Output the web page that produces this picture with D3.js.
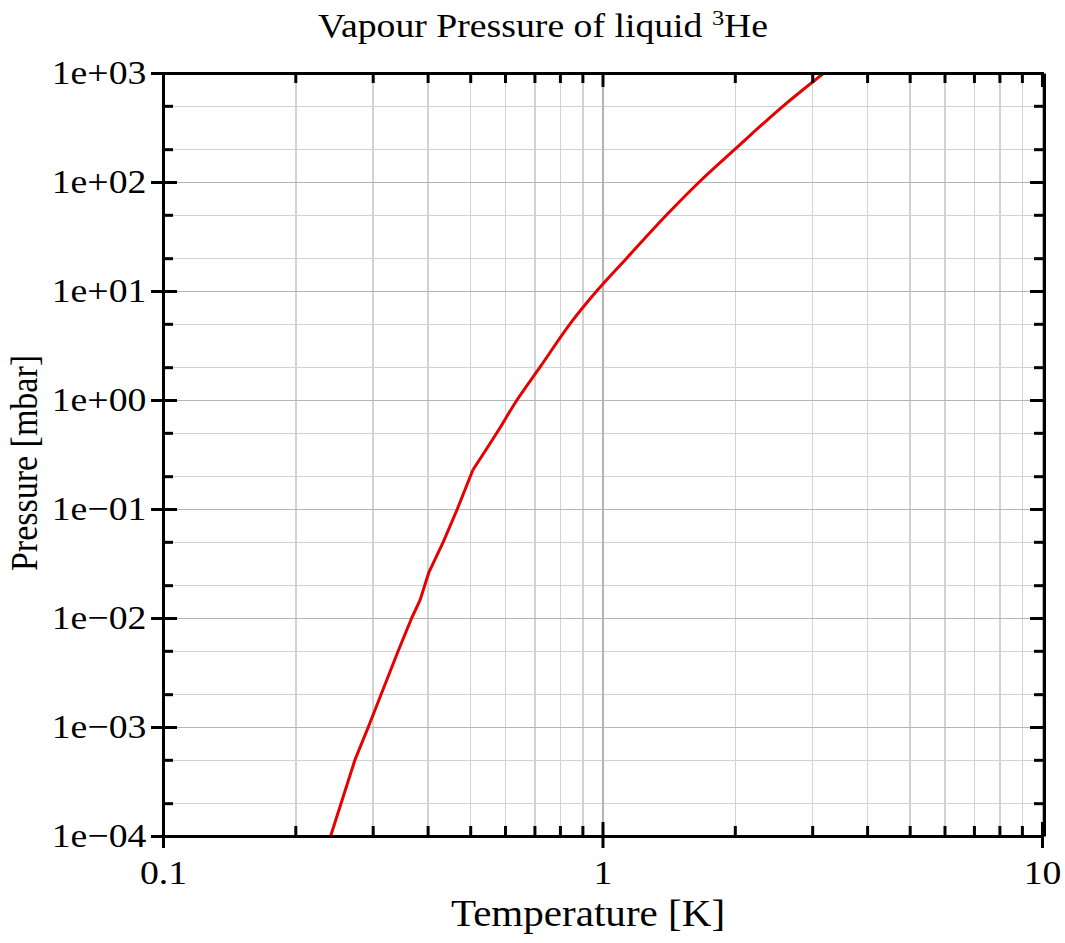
<!DOCTYPE html>
<html lang="en">
<head>
    <meta charset="UTF-8">
    <title>Vapour Pressure of liquid 3He</title>
    <script src="https://d3js.org/d3.v7.min.js"></script>
    <style>
        body { margin: 0; background: #fff; }
        svg { display: block; }
        text { font-family: "Liberation Serif", "Tinos", "Times New Roman", "DejaVu Serif", serif; }
        .grid line { shape-rendering: crispEdges; }
        .grid .domain { display: none; }
    </style>
</head>
<body>
<div id="container"></div>
<script>
    // data (T in K, P in mbar)
    var temperature = [0.2407, 0.2734, 0.2932, 0.343, 0.368, 0.3845, 0.4029, 0.4343, 0.4674, 0.507,
                       0.575, 0.639, 0.7207, 0.8436, 0.970, 1.135, 1.40, 1.66, 2.002, 2.58, 3.19];
    var pressure    = [1e-4, 5e-4, 1e-3, 5e-3, 0.01, 0.0146, 0.0264, 0.05, 0.1, 0.228,
                       0.5, 1, 2, 5, 10, 20, 50, 100, 200, 500, 1000];
    var kinkAt = 0.507;   // below this the curve is drawn point to point

    var xTicks = [0.1, 1, 10];
    var xTickLabels = ["0.1", "1", "10"];
    var yTicks = [1e-4, 1e-3, 1e-2, 1e-1, 1e0, 1e1, 1e2, 1e3];
    var yTickLabels = ["1e\u221204", "1e\u221203", "1e\u221202", "1e\u221201", "1e+00", "1e+01", "1e+02", "1e+03"];

    var width = 1065, height = 943,
        margin = {left: 163, top: 73, right: 23, bottom: 107};
    var w = width - margin.left - margin.right;
    var h = height - margin.top - margin.bottom;
    var fontSize = "34px";
    var stretch = "scale(1.11,1)";   // the text in the picture is a bit wide

    var svg = d3.select("#container").append("svg").attr("width", width).attr("height", height);
    var g = svg.append("g").attr("transform", `translate(${margin.left},${margin.top})`);

    var x = d3.scaleLog().domain([0.1, 10]).range([0, w]);
    var y = d3.scaleLog().domain([1e-4, 1e3]).range([h, 0]);

    // minor ticks from the scale itself
    var xMinor = x.ticks().filter(d => xTicks.indexOf(d) < 0);
    var yMinor = y.ticks().filter(d => {
        var m = Math.round(d / Math.pow(10, Math.floor(Math.log10(d) + 1e-9)));
        return m == 2 || m == 5;
    });

    // grid
    function grid(axis, values, tr, color) {
        g.append("g").attr("class", "grid")
            .attr("transform", tr)
            .call(axis.tickValues(values).tickFormat(""))
            .selectAll("line").attr("stroke", color).attr("stroke-width", 1.5);
    }
    grid(d3.axisBottom(x).tickSize(-h), xMinor, `translate(0,${h})`, "#d2d2d2");
    grid(d3.axisLeft(y).tickSize(-w), yMinor, null, "#d2d2d2");
    grid(d3.axisBottom(x).tickSize(-h), xTicks, `translate(0,${h})`, "#b4b4b4");
    grid(d3.axisLeft(y).tickSize(-w), yTicks, null, "#b4b4b4");

    // curve
    g.append("clipPath").attr("id", "clip")
        .append("rect").attr("width", w).attr("height", h);
    var pts = d3.zip(temperature, pressure);
    var lower = pts.filter(d => d[0] <= kinkAt);
    var upper = pts.filter(d => d[0] >= kinkAt);
    var line = d3.line().x(d => x(d[0])).y(d => y(d[1]));
    var curves = g.append("g").attr("clip-path", "url(#clip)");
    curves.append("path").datum(lower)
        .attr("fill", "none").attr("stroke", "#e60000").attr("stroke-width", 3)
        .attr("stroke-linejoin", "round")
        .attr("d", line.curve(d3.curveLinear));
    curves.append("path").datum(upper)
        .attr("fill", "none").attr("stroke", "#e60000").attr("stroke-width", 3)
        .attr("d", line.curve(d3.curveMonotoneX));

    function styleAxis(sel) {
        sel.attr("font-family", null);
        sel.select(".domain").attr("stroke", "#000").attr("stroke-width", 3);
        sel.selectAll(".tick line").attr("stroke", "#000").attr("stroke-width", 3);
        sel.selectAll(".tick text").attr("fill", "#000").attr("transform", stretch).style("font-size", fontSize);
    }

    // inward ticks: minor and major
    function inward(axisFn, major, minor, tr) {
        var a1 = g.append("g").attr("transform", tr)
            .call(axisFn.tickValues(minor).tickSize(-10).tickSizeOuter(0).tickFormat(""));
        styleAxis(a1);
        var a2 = g.append("g").attr("transform", tr)
            .call(axisFn.tickValues(major).tickSize(-14).tickSizeOuter(0).tickFormat(""));
        styleAxis(a2);
        a2.select(".domain").remove();
    }
    inward(d3.axisBottom(x), xTicks, xMinor, `translate(0,${h})`);
    inward(d3.axisTop(x), xTicks, xMinor, "translate(0,0)");
    inward(d3.axisLeft(y), yTicks, yMinor, "translate(0,0)");
    inward(d3.axisRight(y), yTicks, yMinor, `translate(${w + 2},0)`);

    // outward major ticks with labels
    var xb = g.append("g").attr("transform", `translate(0,${h})`)
        .call(d3.axisBottom(x).tickValues(xTicks).tickSize(12).tickSizeOuter(0).tickPadding(12)
            .tickFormat((d, i) => xTickLabels[i]));
    styleAxis(xb);
    xb.select(".domain").remove();

    var yl = g.append("g")
        .call(d3.axisLeft(y).tickValues(yTicks).tickSize(12).tickSizeOuter(0).tickPadding(3)
            .tickFormat((d, i) => yTickLabels[i]));
    styleAxis(yl);
    yl.select(".domain").remove();

    // title
    var title = svg.append("text")
        .attr("transform", "translate(543,37) " + stretch)
        .attr("text-anchor", "middle")
        .style("font-size", fontSize).attr("fill", "#000");
    title.append("tspan").text("Vapour Pressure of liquid ");
    title.append("tspan").text("3").style("font-size", "22px").attr("dy", -12);
    title.append("tspan").text("He").attr("dy", 12);

    // axis labels
    svg.append("text")
        .attr("transform", "translate(588,926) " + stretch)
        .attr("text-anchor", "middle")
        .style("font-size", "37px").attr("fill", "#000")
        .text("Temperature [K]");
    svg.append("text")
        .attr("transform", "translate(37,463) " + stretch + " rotate(-90)")
        .attr("text-anchor", "middle")
        .style("font-size", fontSize).attr("fill", "#000")
        .text("Pressure [mbar]");
</script>
</body>
</html>
